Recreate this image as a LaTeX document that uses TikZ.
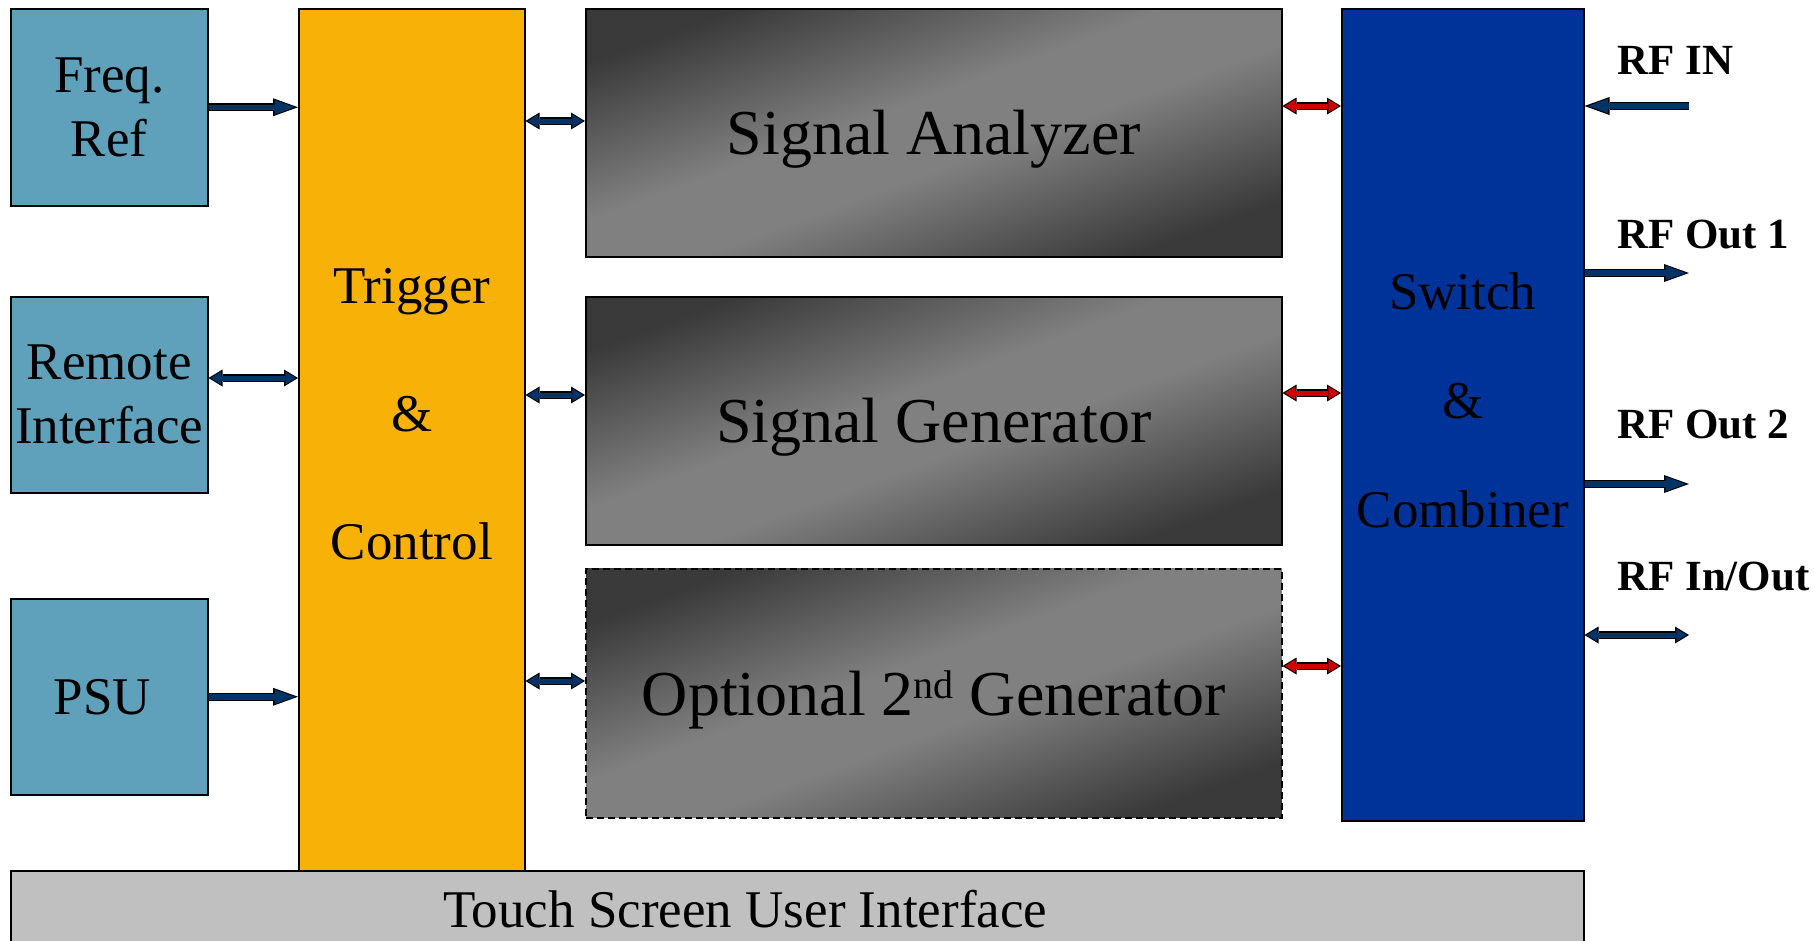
\documentclass[tikz,border=0pt]{standalone}
\usepackage{fontspec}
\setmainfont{Liberation Serif}
\usepackage{xcolor}
\usetikzlibrary{arrows.meta,positioning}

\definecolor{panelblue}{RGB}{95,160,187}
\definecolor{ctrlorange}{RGB}{248,177,6}
\definecolor{combblue}{RGB}{0,51,153}
\definecolor{linkblue}{RGB}{0,51,102}
\definecolor{linkred}{RGB}{204,0,0}
\definecolor{screengray}{RGB}{192,192,192}
\definecolor{shadedark}{RGB}{58,58,58}
\definecolor{shademid}{RGB}{128,128,128}

\pgfdeclareverticalshading{unitshade}{100bp}{color(0bp)=(shadedark); color(25bp)=(shadedark);
  color(45bp)=(shademid); color(55bp)=(shademid); color(75bp)=(shadedark); color(100bp)=(shadedark)}

\tikzset{
  block/.style={draw=black, line width=1.5pt, rectangle, anchor=north west, inner sep=0pt, align=center},
  sidebox/.style={block, fill=panelblue, minimum width=197pt, minimum height=197pt, font=\fontsize{53}{64}\selectfont},
  unitbox/.style={block, shade, shading=unitshade, shading angle=20,
    minimum width=696pt, minimum height=248pt, text depth=0pt, font=\fontsize{64}{76}\selectfont},
  rflabel/.style={anchor=base west, inner sep=0pt, font=\bfseries\fontsize{43}{50}\selectfont},
  % outlined block arrows: black body first, coloured core on top
  link/.style={draw=black, line width=8pt, -{Triangle[length=25pt,width=18pt,line width=0pt]},
    postaction={draw=#1, line width=5.5pt, shorten >=3.4pt,
      -{Triangle[length=20pt,width=14.5pt,line width=0pt]}}},
  link/.default=linkblue,
  duplex/.style={draw=black, line width=7.5pt,
    {Triangle[length=14pt,width=17pt,line width=0pt]}-{Triangle[length=14pt,width=17pt,line width=0pt]},
    postaction={draw=#1, line width=5pt, shorten >=2.2pt, shorten <=2.2pt,
      {Triangle[length=10.5pt,width=13pt,line width=0pt]}-{Triangle[length=10.5pt,width=13pt,line width=0pt]}}},
  duplex/.default=linkblue
}

\begin{document}
\begin{tikzpicture}[x=1pt,y=-1pt]
		\useasboundingbox (0,0) rectangle (1814,940);
		% left column
		\node[sidebox] (freq) at (10,8) {Freq.\\Ref};
		\node[sidebox, minimum height=196pt] (remote) at (10,296) {Remote\\Interface};
		\node[sidebox, minimum height=196pt] (psu) at (10,598) {PSU\hspace{14pt}};
		%
		\node[block, fill=ctrlorange, minimum width=226pt, minimum height=862pt,
		  label={[align=center, yshift=26pt, font=\fontsize{53}{64}\selectfont]center:Trigger\\[64pt]\&\\[64pt]Control}] (trigger) at (298,8) {};
		%
		\node[unitbox] (analyzer) at (585,8) {Signal Analyzer};
		\node[unitbox] (generator) at (585,296) {Signal Generator};
		\node[unitbox, dash pattern=on 7pt off 4pt, minimum height=249pt] (optgen) at (585,568)
		  {Optional 2\raisebox{17pt}{\fontsize{40}{40}\selectfont nd} Generator};
		%
		\node[block, fill=combblue, minimum width=242pt, minimum height=812pt,
		  label={[align=center, yshift=14pt, font=\fontsize{53}{64}\selectfont]center:Switch\\[45pt]\&\\[45pt]Combiner}] (switch) at (1341,8) {};
		%
		\node[block, fill=screengray, minimum width=1573pt, minimum height=76pt,
		  label={[xshift=-52pt, font=\fontsize{53}{64}\selectfont]center:Touch Screen User Interface}] (touch) at (10,870) {};
		%
		\node[rflabel] (rfinlabel) at (1617,74) {RF IN};
		\node[rflabel] (out1label) at (1617,248) {RF Out 1};
		\node[rflabel] (out2label) at (1617,438) {RF Out 2};
		\node[rflabel] (inoutlabel) at (1617,590) {RF In/Out};
		\coordinate (rfin) at (1689,106);
		\coordinate (out1) at (1689,273);
		\coordinate (out2) at (1689,484);
		\coordinate (inout) at (1689,635);
		%
		\draw[link] (freq.east) -- (trigger.west |- freq.east);
		\draw[link] (psu.east) -- (trigger.west |- psu.east);
		\draw[link] (rfin) -- (switch.east |- rfin);
		\draw[link] (switch.east |- out1) -- (out1);
		\draw[link] (switch.east |- out2) -- (out2);
		%
		\draw[duplex] (remote.east |- 0,378) -- (trigger.west |- 0,378);
		\draw[duplex] (trigger.east |- 0,121) -- (analyzer.west |- 0,121);
		\draw[duplex] (trigger.east |- 0,395) -- (generator.west |- 0,395);
		\draw[duplex] (trigger.east |- 0,681) -- (optgen.west |- 0,681);
		\draw[duplex] (switch.east |- inout) -- (inout);
		%
		\draw[duplex=linkred] (analyzer.east |- 0,106) -- (switch.west |- 0,106);
		\draw[duplex=linkred] (generator.east |- 0,393) -- (switch.west |- 0,393);
		\draw[duplex=linkred] (optgen.east |- 0,666) -- (switch.west |- 0,666);
\end{tikzpicture}
\end{document}
